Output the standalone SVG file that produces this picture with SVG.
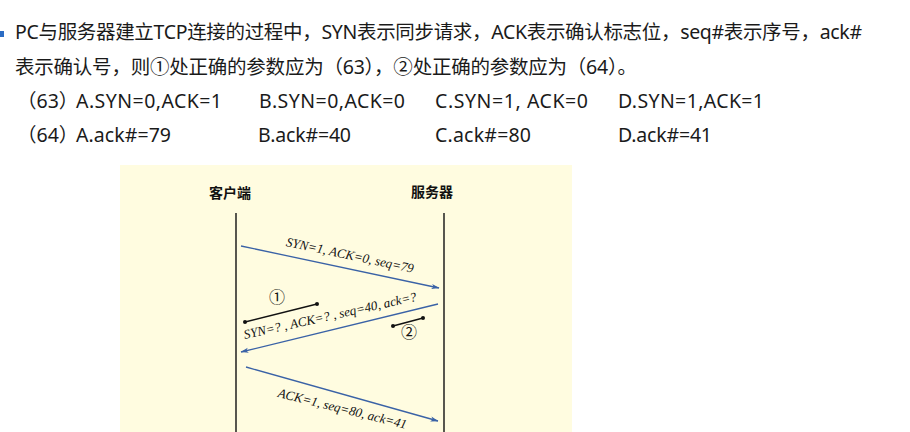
<svg xmlns="http://www.w3.org/2000/svg" width="910" height="432" viewBox="0 0 910 432">
<defs>
<style>
.q{font-family:"Noto Sans","Noto Sans CJK SC",sans-serif;font-size:19.5px;fill:#1a1a1a}
.hd{font-family:"Noto Sans CJK SC",sans-serif;font-size:14px;font-weight:bold;fill:#111;text-anchor:middle}
.lb{font-family:"Liberation Serif","Noto Sans CJK SC",serif;font-style:italic;font-size:13px;fill:#111;text-anchor:middle}
.cn{font-family:"Noto Sans CJK SC",serif;font-size:16px;fill:#111;text-anchor:middle}
.life{stroke:#111;stroke-width:1.4}
.msg{stroke:#3a62a6;stroke-width:1.3;fill:none}
.mark{stroke:#111;stroke-width:1.4}
.dot{fill:#111}
</style>
<marker id="ah" viewBox="0 0 8 6" refX="7.5" refY="3" markerWidth="8" markerHeight="6" markerUnits="userSpaceOnUse" orient="auto">
<path d="M0,0.5 L8,3 L0,5.5 L2,3 z" fill="#3a62a6"/>
</marker>
</defs>
<rect width="910" height="432" fill="#ffffff"/>
<g id="question">
<rect x="0" y="31" width="4" height="6" fill="#2b6cc4"/>
<text class="q" x="15" y="39" textLength="847">PC与服务器建立TCP连接的过程中，SYN表示同步请求，ACK表示确认标志位，seq#表示序号，ack#</text>
<text class="q" x="15" y="74" textLength="622">表示确认号，则①处正确的参数应为（63），②处正确的参数应为（64）。</text>
<text class="q" x="17" y="108">（63）</text>
<text class="q" x="76" y="108" textLength="146">A.SYN=0,ACK=1</text>
<text class="q" x="259" y="108" textLength="146">B.SYN=0,ACK=0</text>
<text class="q" x="435" y="108" textLength="153">C.SYN=1, ACK=0</text>
<text class="q" x="618" y="108" textLength="146">D.SYN=1,ACK=1</text>
<text class="q" x="17" y="142">（64）</text>
<text class="q" x="76" y="142" textLength="95">A.ack#=79</text>
<text class="q" x="258" y="142" textLength="93">B.ack#=40</text>
<text class="q" x="435" y="142" textLength="96">C.ack#=80</text>
<text class="q" x="618" y="142" textLength="94">D.ack#=41</text>
</g>
<rect x="120" y="165" width="452" height="267" fill="#fffce0"/>
<g id="client">
<text class="hd" x="230" y="198">客户端</text>
<line class="life" x1="236" y1="213" x2="236" y2="432"/>
</g>
<g id="server">
<text class="hd" x="432" y="197">服务器</text>
<line class="life" x1="444" y1="213" x2="444" y2="432"/>
</g>
<g id="connectors">
<line class="msg" x1="241" y1="246" x2="439" y2="288" marker-end="url(#ah)"/>
<line class="msg" x1="438" y1="304" x2="241" y2="352" marker-end="url(#ah)"/>
<line class="msg" x1="246" y1="367" x2="438" y2="421" marker-end="url(#ah)"/>
</g>
<g id="labels">
<text class="lb" transform="translate(350,255) rotate(12)" y="4.5">SYN=1, ACK=0, seq=79</text>
<text class="lb" transform="translate(330,315.5) rotate(-12.5)" y="4.5">SYN=? , ACK=? , seq=40, ack=?</text>
<text class="lb" transform="translate(342.5,408.5) rotate(14)" y="4.5">ACK=1, seq=80, ack=41</text>
</g>
<g id="mark1">
<text class="cn" x="277" y="302.5">①</text>
<line class="mark" x1="245" y1="322" x2="317" y2="304"/>
<circle class="dot" cx="245" cy="322" r="2"/>
<circle class="dot" cx="317" cy="304" r="2"/>
</g>
<g id="mark2">
<text class="cn" x="409" y="337.5">②</text>
<line class="mark" x1="393" y1="326" x2="423" y2="318"/>
<circle class="dot" cx="393" cy="326" r="2"/>
<circle class="dot" cx="423" cy="318" r="2"/>
</g>
</svg>
